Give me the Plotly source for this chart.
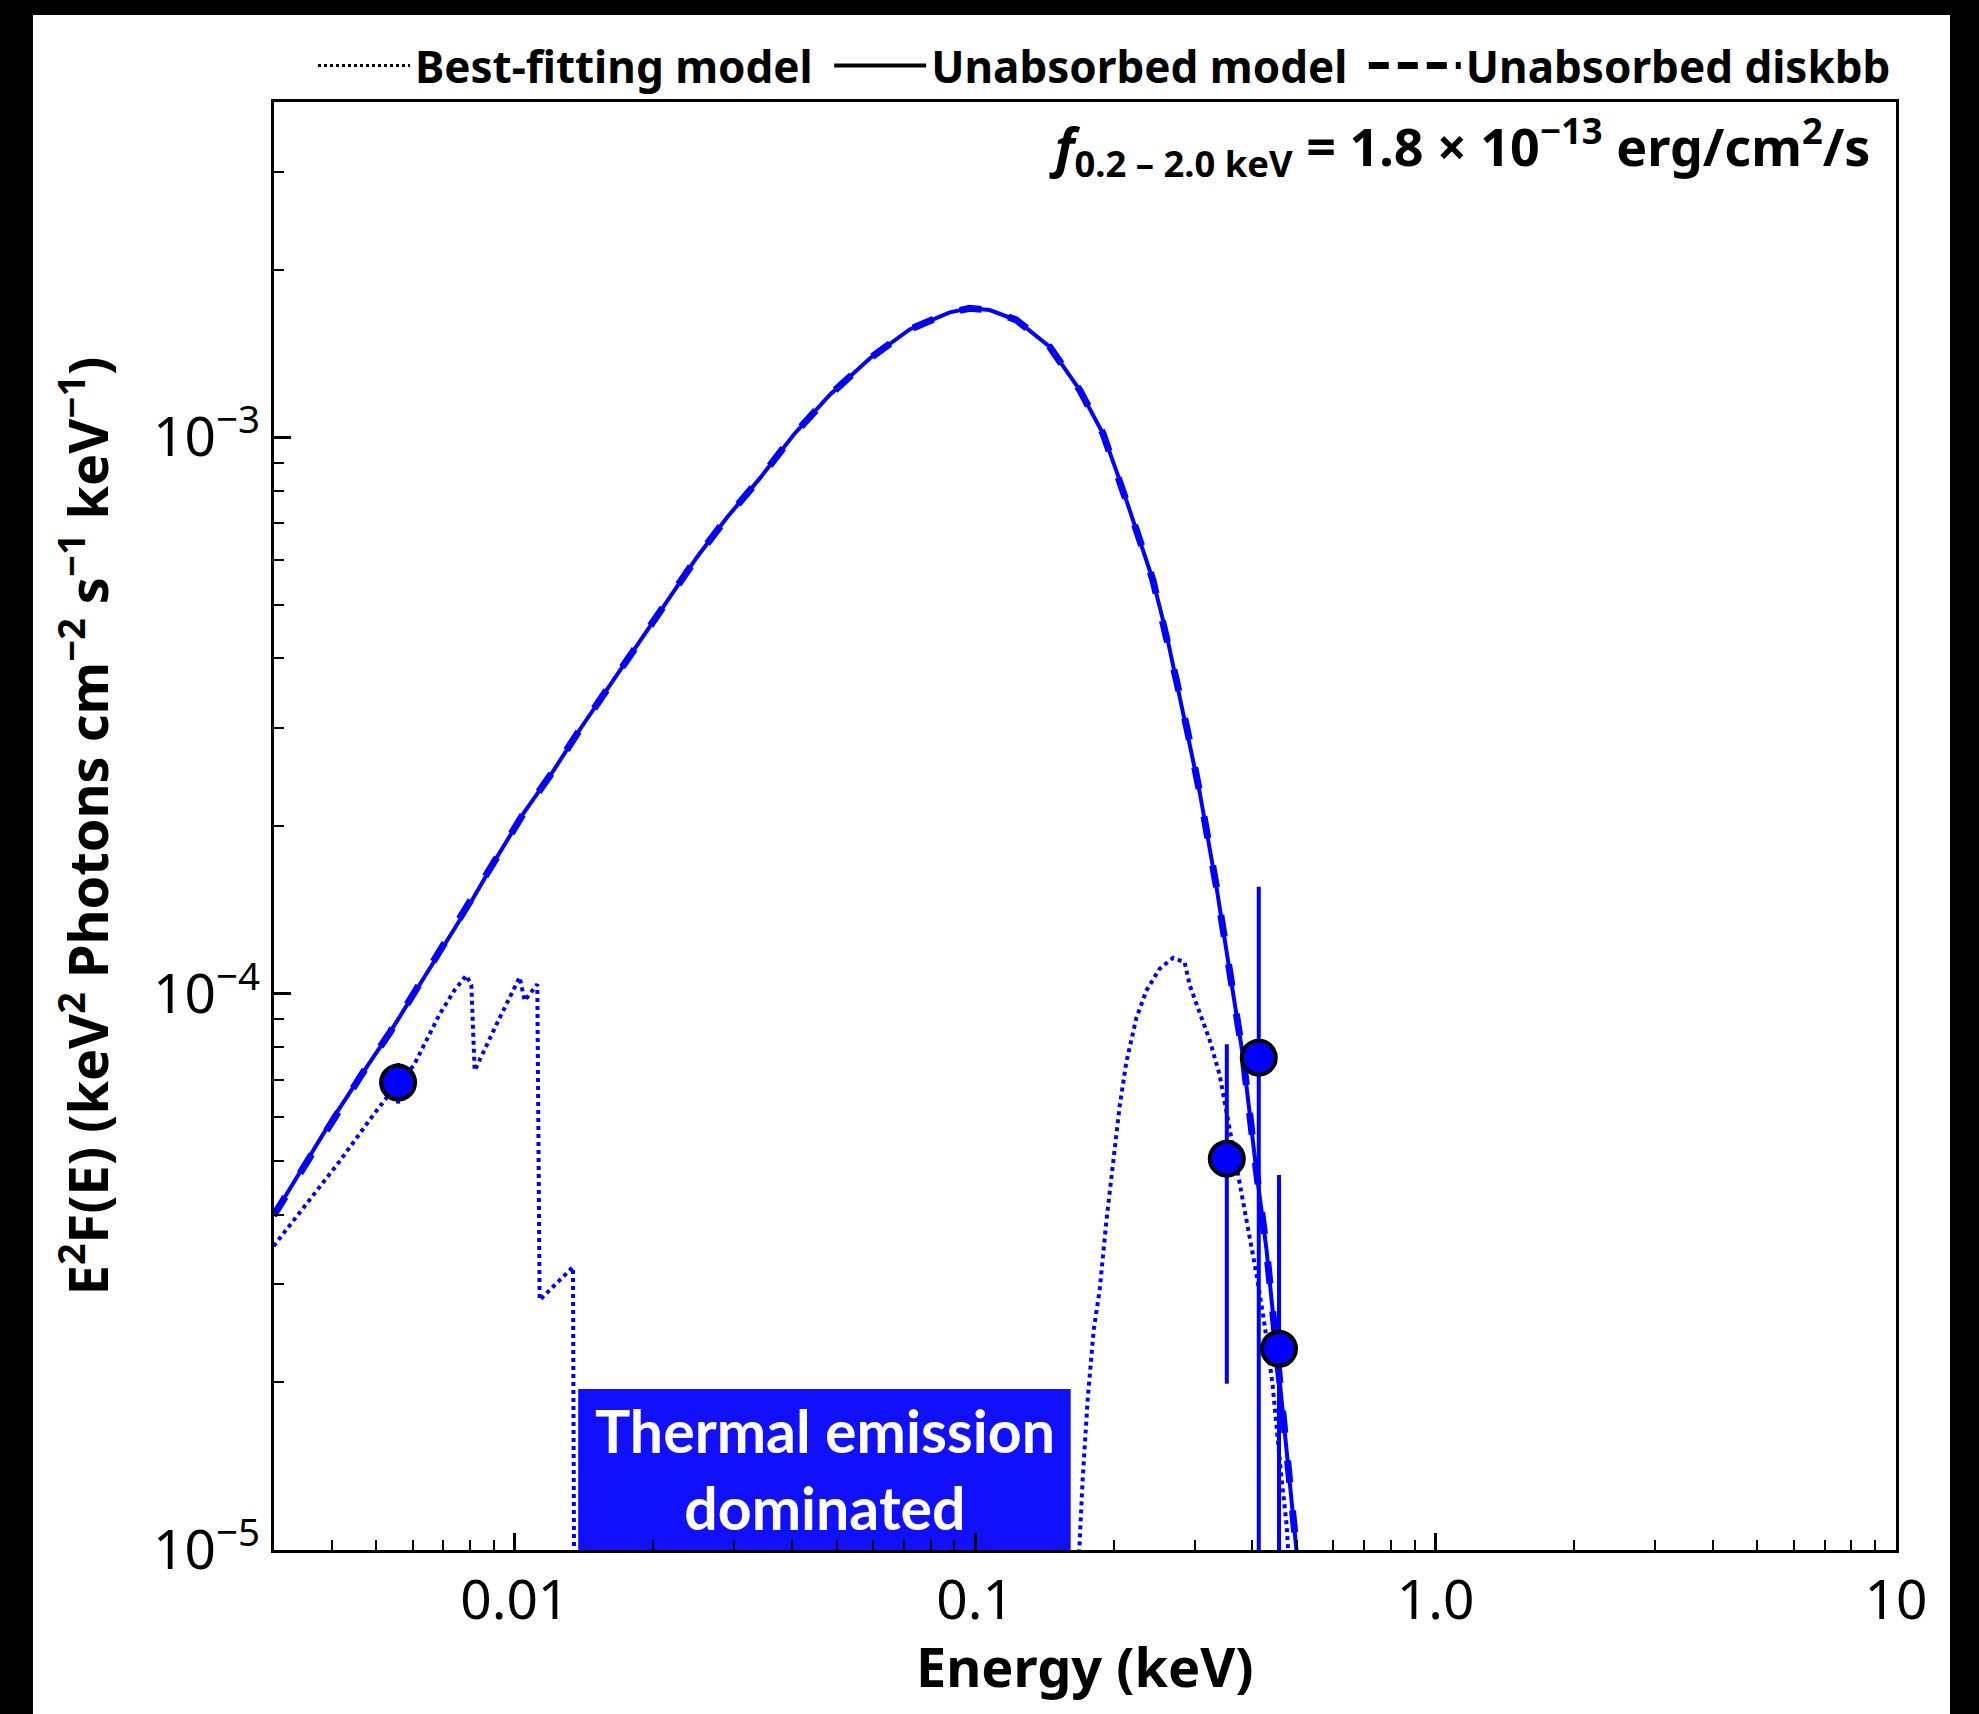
import math
import plotly.graph_objects as go

# ---------------- data ----------------
# Unabsorbed model (solid line)
unabs_e = [0.002994, 0.003479, 0.003975, 0.004619, 0.005366, 0.006132, 0.007010, 0.008006,
           0.009147, 0.010454, 0.012148, 0.013885, 0.016128, 0.018423, 0.021414, 0.024871,
           0.028900, 0.034159, 0.040344, 0.04831, 0.05902, 0.07208, 0.08805, 0.09729,
           0.10752, 0.12290, 0.14511, 0.16865, 0.18948, 0.20596, 0.22397, 0.24324,
           0.26014, 0.27352, 0.28987, 0.30731, 0.33412, 0.36307, 0.38177, 0.40812,
           0.42902, 0.45099, 0.47408, 0.49843, 0.505]
unabs_f = [3.99e-5, 4.887e-5, 5.866e-5, 7.092e-5, 8.533e-5, 1.019e-4, 1.217e-4, 1.453e-4,
           1.757e-4, 2.109e-4, 2.518e-4, 2.991e-4, 3.590e-4, 4.21e-4, 5.067e-4, 6.081e-4,
           7.167e-4, 8.453e-4, 1.0094e-3, 1.190e-3, 1.384e-3, 1.561e-3, 1.675e-3, 1.703e-3,
           1.691e-3, 1.623e-3, 1.453e-3, 1.215e-3, 1.015e-3, 8.37e-4, 6.806e-4, 5.534e-4,
           4.438e-4, 3.659e-4, 2.935e-4, 2.302e-4, 1.557e-4, 1.012e-4, 7.703e-5, 4.8e-5,
           3.483e-5, 2.314e-5, 1.538e-5, 1.011e-5, 9.0e-6]

# Unabsorbed diskbb (dashed line) - overlaps the unabsorbed model
disk_e = [0.002994, 0.003479, 0.003975, 0.004619, 0.005366, 0.006132, 0.007010, 0.008006,
          0.009147, 0.010454, 0.012148, 0.013885, 0.016128, 0.018423, 0.021414, 0.024871,
          0.028900, 0.034159, 0.040344, 0.04831, 0.05902, 0.07208, 0.08805, 0.09729,
          0.10752, 0.12290, 0.14511, 0.16865, 0.18948, 0.20596, 0.22397, 0.24324,
          0.26014, 0.27352, 0.28987, 0.30731, 0.33412, 0.36307, 0.38177, 0.40812,
          0.42902, 0.45099, 0.47408, 0.49843, 0.505]
disk_f = [3.99e-5, 4.887e-5, 5.866e-5, 7.092e-5, 8.533e-5, 1.019e-4, 1.217e-4, 1.453e-4,
          1.757e-4, 2.109e-4, 2.518e-4, 2.991e-4, 3.590e-4, 4.21e-4, 5.067e-4, 6.081e-4,
          7.167e-4, 8.453e-4, 1.0094e-3, 1.190e-3, 1.384e-3, 1.561e-3, 1.675e-3, 1.703e-3,
          1.691e-3, 1.623e-3, 1.453e-3, 1.215e-3, 1.015e-3, 8.37e-4, 6.806e-4, 5.534e-4,
          4.438e-4, 3.659e-4, 2.935e-4, 2.302e-4, 1.557e-4, 1.012e-4, 7.703e-5, 4.8e-5,
          3.483e-5, 2.314e-5, 1.538e-5, 1.011e-5, 9.0e-6]

# Best-fitting (absorbed) model (dotted line)
best_e = [0.002994, 0.003537, 0.004179, 0.004937, 0.005580, 0.006031, 0.006868, 0.007405,
          0.007848, 0.008049, 0.008183, 0.009147, 0.010247, 0.010507, 0.011195, 0.011325,
          0.013379, 0.013493,
          0.16779, 0.17118, 0.17549, 0.18087, 0.18637, 0.19275, 0.19920, 0.20601, 0.21300,
          0.22387, 0.23537, 0.25159, 0.26895, 0.28510, 0.29234, 0.30726, 0.32307, 0.33963,
          0.35708, 0.37537, 0.39459, 0.40860, 0.42530, 0.44270, 0.46080, 0.47480, 0.48196]
best_f = [3.516e-5, 4.198e-5, 5.013e-5, 6.062e-5, 6.907e-5, 7.42e-5, 9.18e-5, 1.0146e-4,
          1.078e-4, 1.036e-4, 7.27e-5, 8.83e-5, 1.070e-4, 9.71e-5, 1.039e-4, 2.812e-5,
          3.225e-5, 5.0e-6,
          9.5e-6, 1.336e-5, 1.860e-5, 2.484e-5, 2.932e-5, 3.902e-5, 5.006e-5, 6.28e-5, 7.53e-5,
          9.03e-5, 1.0116e-4, 1.1080e-4, 1.1588e-4, 1.138e-4, 1.035e-4, 9.24e-5, 8.25e-5, 7.14e-5,
          5.684e-5, 4.565e-5, 3.665e-5, 3.120e-5, 2.537e-5, 1.979e-5, 1.392e-5, 1.109e-5, 9.0e-6]

# Data points with symmetric errors
pt_e = [0.00558, 0.352, 0.413, 0.457]
pt_f = [6.92e-5, 5.05e-5, 7.67e-5, 2.30e-5]
pt_err = [0.58e-5, 3.06e-5, 7.89e-5, 2.42e-5]

# Axis ticks
x_tick_vals = [0.01, 0.1, 1.0, 10]
x_tick_text = ["0.01", "0.1", "1.0", "10"]
y_tick_vals = [1e-5, 1e-4, 1e-3]
y_tick_text = ["10<sup>\u22125</sup>", "10<sup>\u22124</sup>", "10<sup>\u22123</sup>"]
x_minor = [m * 10.0 ** k for k in (-3, -2, -1, 0) for m in range(2, 10) if 0.0035 < m * 10.0 ** k < 10]
y_minor = [m * 10.0 ** k for k in (-5, -4, -3) for m in range(2, 10) if m * 10.0 ** k < 0.004]

NB = "\u00a0"
legend_names = ["Best-fitting model" + NB, "Unabsorbed model" + NB, "Unabsorbed diskbb"]

# Thermal-emission box (data coordinates)
box_x = [0.013737, 0.16123]
box_y = [1e-5, 1.946e-5]

BLUE = "#0000ff"
BOXBLUE = "#1010ff"

fig = go.Figure()
fig.add_trace(go.Scatter(x=best_e, y=best_f, mode="lines",
                         line=dict(color=BLUE, width=4, dash="dot"), showlegend=False))
fig.add_trace(go.Scatter(x=unabs_e, y=unabs_f, mode="lines",
                         line=dict(color=BLUE, width=4), showlegend=False))
fig.add_trace(go.Scatter(x=disk_e, y=disk_f, mode="lines",
                         line=dict(color=BLUE, width=7, dash="22px,28px"), showlegend=False))
fig.add_trace(go.Scatter(x=pt_e, y=pt_f, mode="markers",
                         marker=dict(size=34, color=BLUE, line=dict(color="black", width=4)),
                         error_y=dict(type="data", array=pt_err, symmetric=True,
                                      color=BLUE, thickness=4, width=0),
                         showlegend=False))

# legend entries (black line samples)
leg_styles = [("dot", 3), ("solid", 4), ("20px,9px", 7)]
for name, (dash, w) in zip(legend_names, leg_styles):
    fig.add_trace(go.Scatter(x=[None], y=[None], mode="lines", name=name,
                             line=dict(color="black", width=w, dash=dash)))

# white page over the black surround
fig.add_shape(type="rect", xref="paper", yref="paper", x0=-0.1486, x1=1.0333, y0=-0.2, y1=1.0601,
              fillcolor="white", line_width=0, layer="below")
fig.add_shape(type="rect", xref="x", yref="y", x0=box_x[0], x1=box_x[1], y0=box_y[0], y1=box_y[1],
              fillcolor=BOXBLUE, line_width=0, layer="below")

fig.add_annotation(xref="paper", yref="paper", x=0.3396, y=0.0556, xanchor="center", yanchor="middle",
                   text="Thermal emission<br>dominated", showarrow=False,
                   font=dict(family="Lato", size=59, color="white", weight=700))
fig.add_annotation(xref="paper", yref="paper", x=0.9852, y=0.969, xanchor="right", yanchor="middle",
                   text="<i>f</i><sub>0.2 \u2013 2.0 keV</sub> = 1.8 \u00d7 10<sup>\u221213</sup> erg/cm<sup>2</sup>/s",
                   showarrow=False, font=dict(family="Noto Sans", size=52, color="black", weight=700))
# x-axis title
fig.add_annotation(xref="paper", yref="paper", x=0.5, y=-0.0801, xanchor="center", yanchor="middle",
                   text="Energy (keV)", showarrow=False,
                   font=dict(family="Noto Sans", size=54, color="black", weight=700))

axis_common = dict(type="log", showline=True, linecolor="black", linewidth=3, mirror=True,
                   ticks="inside", ticklen=17, tickwidth=3, tickcolor="black",
                   showgrid=False, zeroline=False, tickfont=dict(family="Noto Sans", size=55, color="black"))

fig.update_layout(
    width=1979, height=1714,
    margin=dict(l=274, r=83, t=102, b=164, pad=0),
    paper_bgcolor="black", plot_bgcolor="white",
    font=dict(family="Noto Sans", color="black"),
    showlegend=True,
    legend=dict(orientation="h", x=1.0, xanchor="right", y=1.025, yanchor="middle",
                font=dict(family="Noto Sans", size=44, color="black", weight=700),
                itemwidth=92, bgcolor="rgba(0,0,0,0)", traceorder="normal"),
    xaxis=dict(**axis_common, range=[math.log10(0.003), 1],
               tickmode="array", tickvals=x_tick_vals, ticktext=x_tick_text,
               minor=dict(ticks="inside", ticklen=10, tickwidth=2, tickcolor="black",
                          tickmode="array", tickvals=x_minor, showgrid=False)),
    yaxis=dict(**axis_common, range=[-5, math.log10(0.004)],
               tickmode="array", tickvals=y_tick_vals, ticktext=y_tick_text,
               minor=dict(ticks="inside", ticklen=10, tickwidth=2, tickcolor="black",
                          tickmode="array", tickvals=y_minor, showgrid=False),
               title=dict(text="E<sup>2</sup>F(E) (keV<sup>2</sup> Photons cm<sup>\u22122</sup> s<sup>\u22121</sup> keV<sup>\u22121</sup>)",
                          font=dict(family="Noto Sans", size=54, weight=700), standoff=28)),
)

fig.write_html("out.html")
